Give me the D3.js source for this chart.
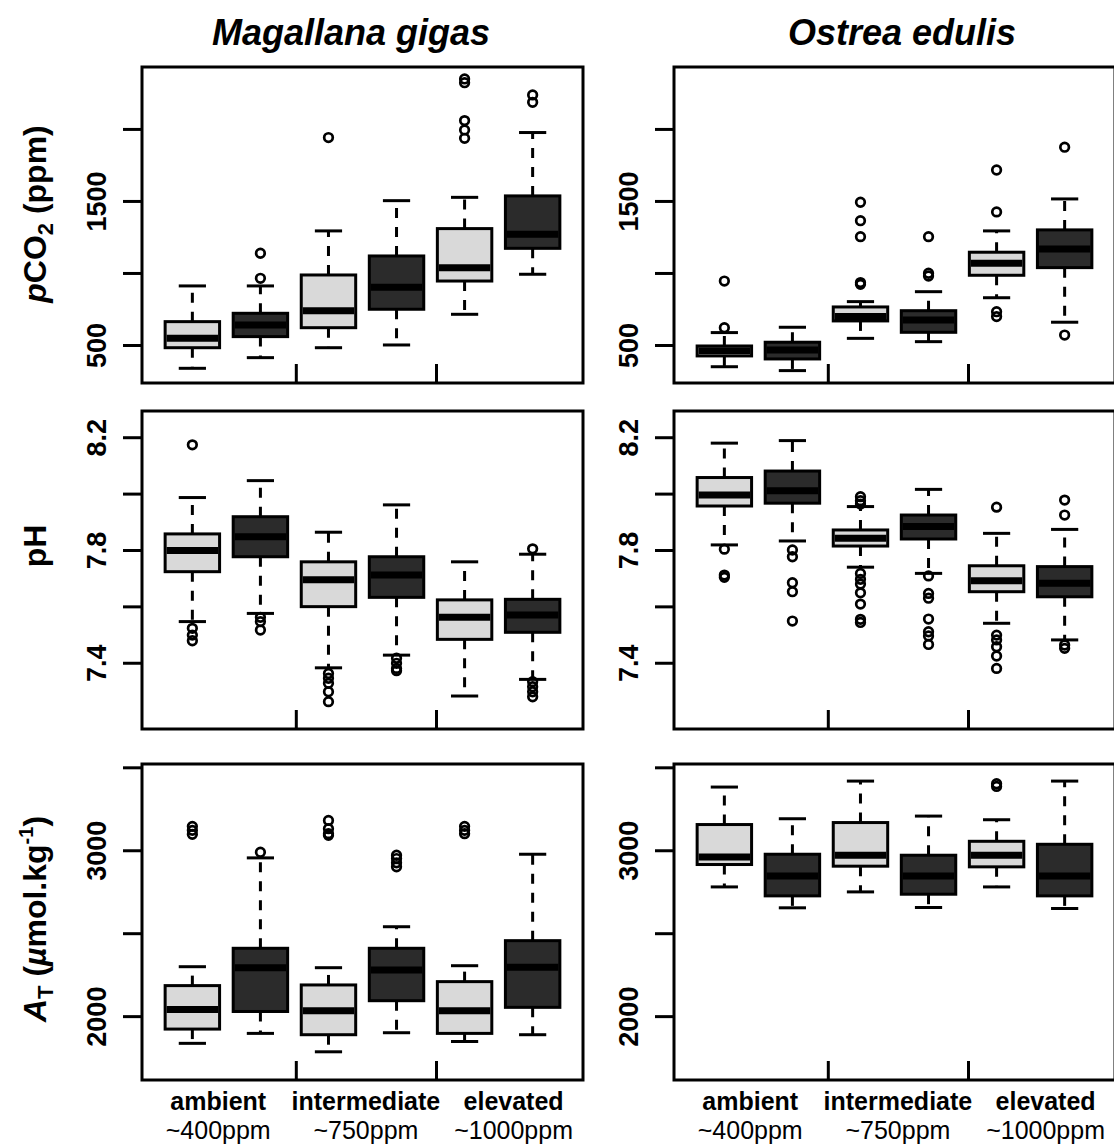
<!DOCTYPE html>
<html>
<head>
<meta charset="utf-8">
<script src="https://cdn.jsdelivr.net/npm/d3@7"></script>
<style>
body { margin: 0; background: #fff; }
svg { display: block; font-family: "Liberation Sans", Arial, sans-serif; }
</style>
</head>
<body>
<svg id="chart" width="1114" height="1144"></svg>
<script>
// treatments and species
var species = ["Magallana gigas", "Ostrea edulis"];
var groups = ["ambient", "intermediate", "elevated"];
var groupPpm = ["~400ppm", "~750ppm", "~1000ppm"];
var groupLabelPos = [1.38, 3.55, 5.72];
var groupTickPos = [2.52, 4.58];

// box stats: [lower whisker, Q1, median, Q3, upper whisker], 6 boxes per panel
var pco2Gigas = [[338, 481, 546, 662, 910], [412, 558, 639, 720, 910], [481, 620, 738, 986, 1292],
                 [500, 748, 901, 1118, 1502], [713, 944, 1037, 1308, 1525], [991, 1171, 1269, 1535, 1975]];
var pco2GigasOut = [[], [963, 1137], [1940], [], [1935, 1993, 2058, 2321, 2347], [2185, 2236]];
var pco2Edulis = [[349, 424, 460, 493, 586], [322, 403, 465, 519, 623], [546, 667, 697, 764, 801],
                  [523, 588, 674, 738, 870], [828, 984, 1067, 1144, 1292], [658, 1037, 1167, 1299, 1514]];
var pco2EdulisOut = [[620, 944], [], [921, 933, 1252, 1363, 1491], [979, 998, 1252], [697, 731, 1424, 1715], [569, 1873]];

var phGigas = [[7.546, 7.723, 7.798, 7.857, 7.986], [7.575, 7.776, 7.847, 7.918, 8.046], [7.382, 7.599, 7.694, 7.758, 7.863],
               [7.427, 7.632, 7.711, 7.776, 7.960], [7.282, 7.483, 7.561, 7.623, 7.758], [7.341, 7.508, 7.569, 7.625, 7.785]];
var phGigasOut = [[8.173, 7.522, 7.498, 7.478], [7.561, 7.546, 7.516], [7.362, 7.345, 7.327, 7.297, 7.262],
                  [7.416, 7.398, 7.380, 7.372], [], [7.804, 7.333, 7.315, 7.297, 7.279]];
var phEdulis = [[7.818, 7.956, 7.995, 8.057, 8.179], [7.832, 7.966, 8.010, 8.080, 8.188], [7.739, 7.814, 7.842, 7.871, 7.954],
                [7.717, 7.839, 7.883, 7.924, 8.015], [7.540, 7.652, 7.691, 7.744, 7.859], [7.481, 7.634, 7.682, 7.741, 7.873]];
var phEdulisOut = [[7.803, 7.711, 7.703], [7.800, 7.776, 7.684, 7.652, 7.548],
                   [7.989, 7.975, 7.963, 7.717, 7.696, 7.679, 7.648, 7.608, 7.554, 7.543],
                   [7.708, 7.646, 7.629, 7.555, 7.510, 7.495, 7.465], [7.952, 7.498, 7.481, 7.457, 7.424, 7.380],
                   [7.977, 7.924, 7.463, 7.451]];

var atGigas = [[1836, 1922, 2040, 2184, 2298], [1896, 2028, 2292, 2409, 2954], [1785, 1888, 2032, 2188, 2292],
               [1900, 2093, 2278, 2409, 2539], [1847, 1896, 2032, 2208, 2304], [1888, 2053, 2295, 2455, 2976]];
var atGigasOut = [[3144, 3120, 3096], [2988], [3180, 3130, 3100, 3090], [2970, 2950, 2924, 2900], [3144, 3120, 3100], []];
var atEdulis = [[2779, 2914, 2960, 3155, 3381], [2653, 2725, 2845, 2976, 3190], [2749, 2904, 2970, 3167, 3417],
                [2655, 2735, 2845, 2970, 3206], [2779, 2900, 2970, 3054, 3184], [2649, 2725, 2845, 3036, 3417]];
var atEdulisOut = [[], [], [], [], [3401, 3385], []];

// y axis ranges and ticks
var pco2Lim = [236, 2430];
var pco2Ticks = [500, 1000, 1500, 2000];
var pco2Labels = [500, 1500];
var phLim = [7.165, 8.293];
var phTicks = [7.4, 7.6, 7.8, 8.0, 8.2];
var phLabels = [7.4, 7.8, 8.2];
var atLim = [1615, 3520];
var atTicks = [2000, 2500, 3000, 3500];
var atLabels = [2000, 3000];

// layout
var colX = [142, 674];
var panelW = 441;
var rowY = [67, 411, 764];
var panelH = [316, 318, 316];
var titleX = [351, 902];
var fills = ["#d9d9d9", "#2b2b2b"];

var svg = d3.select("#chart");

var rows = [
    {stats: [pco2Gigas, pco2Edulis], outs: [pco2GigasOut, pco2EdulisOut], lim: pco2Lim, ticks: pco2Ticks, labels: pco2Labels, fmt: d3.format("")},
    {stats: [phGigas, phEdulis], outs: [phGigasOut, phEdulisOut], lim: phLim, ticks: phTicks, labels: phLabels, fmt: d3.format(".1f")},
    {stats: [atGigas, atEdulis], outs: [atGigasOut, atEdulisOut], lim: atLim, ticks: atTicks, labels: atLabels, fmt: d3.format("")}
];

rows.forEach(function (row, r) {
    for (var c = 0; c < 2; c++) {
        drawPanel(row, r, c);
    }
});

function drawPanel(row, r, c) {
    var x0 = colX[c], y0 = rowY[r], h = panelH[r];
    var x = d3.scaleLinear().domain([0.26, 6.74]).range([x0, x0 + panelW]);
    var y = d3.scaleLinear().domain(row.lim).range([y0 + h, y0]);
    var g = svg.append("g");
    var stats = row.stats[c];

    var boxes = g.selectAll(".box").data(stats).enter().append("g").attr("class", "box");

    // whiskers (dashed)
    [[3, 4], [1, 0]].forEach(function (p) {
        boxes.append("line")
            .attr("x1", function (d, i) { return x(i + 1); })
            .attr("x2", function (d, i) { return x(i + 1); })
            .attr("y1", function (d) { return y(d[p[0]]); })
            .attr("y2", function (d) { return y(d[p[1]]); })
            .attr("stroke", "#000").attr("stroke-width", 3).attr("stroke-dasharray", "10,9");
    });
    // staples
    [0, 4].forEach(function (k) {
        boxes.append("line")
            .attr("x1", function (d, i) { return x(i + 1 - 0.2); })
            .attr("x2", function (d, i) { return x(i + 1 + 0.2); })
            .attr("y1", function (d) { return y(d[k]); })
            .attr("y2", function (d) { return y(d[k]); })
            .attr("stroke", "#000").attr("stroke-width", 3);
    });
    // box
    boxes.append("rect")
        .attr("x", function (d, i) { return x(i + 1 - 0.4); })
        .attr("width", function (d, i) { return x(i + 1.4) - x(i + 0.6); })
        .attr("y", function (d) { return y(d[3]); })
        .attr("height", function (d) { return y(d[1]) - y(d[3]); })
        .attr("fill", function (d, i) { return fills[i % 2]; })
        .attr("stroke", "#000").attr("stroke-width", 3);
    // median
    boxes.append("line")
        .attr("x1", function (d, i) { return x(i + 1 - 0.4) + 1.5; })
        .attr("x2", function (d, i) { return x(i + 1 + 0.4) - 1.5; })
        .attr("y1", function (d) { return y(d[2]); })
        .attr("y2", function (d) { return y(d[2]); })
        .attr("stroke", "#000").attr("stroke-width", 7);

    // outliers
    var pts = [];
    row.outs[c].forEach(function (vals, i) {
        vals.forEach(function (v) { pts.push({pos: i + 1, v: v}); });
    });
    g.selectAll(".out").data(pts).enter().append("circle")
        .attr("cx", function (d) { return x(d.pos); })
        .attr("cy", function (d) { return y(d.v); })
        .attr("r", 4.3)
        .attr("fill", "none").attr("stroke", "#000").attr("stroke-width", 2.7);

    // y axis
    var yAxis = g.append("g").attr("transform", "translate(" + x0 + ",0)")
        .call(d3.axisLeft(y).tickValues(row.ticks).tickSize(19).tickPadding(0)
            .tickFormat(function (v) { return row.labels.indexOf(v) >= 0 ? row.fmt(v) : ""; }));
    yAxis.select(".domain").remove();
    yAxis.selectAll(".tick line").attr("stroke", "#000").attr("stroke-width", 3);
    yAxis.selectAll(".tick text")
        .attr("x", null).attr("dy", null)
        .attr("transform", "translate(-36,0) rotate(-90)")
        .attr("text-anchor", "middle")
        .attr("fill", "#000")
        .style("font-family", "Liberation Sans, Arial, sans-serif")
        .style("font-size", "27px").style("font-weight", "bold");

    // inward group ticks on bottom
    var xAxis = g.append("g").attr("transform", "translate(0," + (y0 + h) + ")")
        .call(d3.axisBottom(x).tickValues(groupTickPos).tickSize(-19).tickFormat(""));
    xAxis.select(".domain").remove();
    xAxis.selectAll(".tick line").attr("stroke", "#000").attr("stroke-width", 3);

    // frame
    g.append("rect")
        .attr("x", x0).attr("y", y0).attr("width", panelW).attr("height", h)
        .attr("fill", "none").attr("stroke", "#000").attr("stroke-width", 3);

    if (r === 2) {
        g.selectAll(".grp").data(groups).enter().append("text")
            .attr("x", function (d, i) { return x(groupLabelPos[i]); })
            .attr("y", 1110)
            .attr("text-anchor", "middle")
            .style("font-size", "25px").style("font-weight", "bold")
            .text(function (d) { return d; });
        g.selectAll(".ppm").data(groupPpm).enter().append("text")
            .attr("x", function (d, i) { return x(groupLabelPos[i]); })
            .attr("y", 1139)
            .attr("text-anchor", "middle")
            .style("font-size", "25px")
            .text(function (d) { return d; });
    }
}

// species titles
svg.selectAll(".title").data(species).enter().append("text")
    .attr("x", function (d, i) { return titleX[i]; })
    .attr("y", 45)
    .attr("text-anchor", "middle")
    .style("font-size", "36px").style("font-weight", "bold").style("font-style", "italic")
    .text(function (d) { return d; });

// y axis titles
function yTitle(cy) {
    return svg.append("text")
        .attr("transform", "translate(46," + cy + ") rotate(-90)")
        .attr("text-anchor", "middle")
        .style("font-size", "32px").style("font-weight", "bold");
}
var t1 = yTitle(214);
t1.append("tspan").style("font-style", "italic").text("p");
t1.append("tspan").text("CO");
t1.append("tspan").attr("dy", 7).style("font-size", "22px").text("2");
t1.append("tspan").attr("dy", -7).text(" (ppm)");

yTitle(546).text("pH");

var t3 = yTitle(919);
t3.append("tspan").style("font-style", "italic").text("A");
t3.append("tspan").attr("dy", 7).style("font-size", "22px").text("T");
t3.append("tspan").attr("dy", -7).text(" (");
t3.append("tspan").style("font-style", "italic").text("\u00b5");
t3.append("tspan").text("mol.kg");
t3.append("tspan").attr("dy", -13).style("font-size", "20px").text("-1");
t3.append("tspan").attr("dy", 13).text(")");
</script>
</body>
</html>
